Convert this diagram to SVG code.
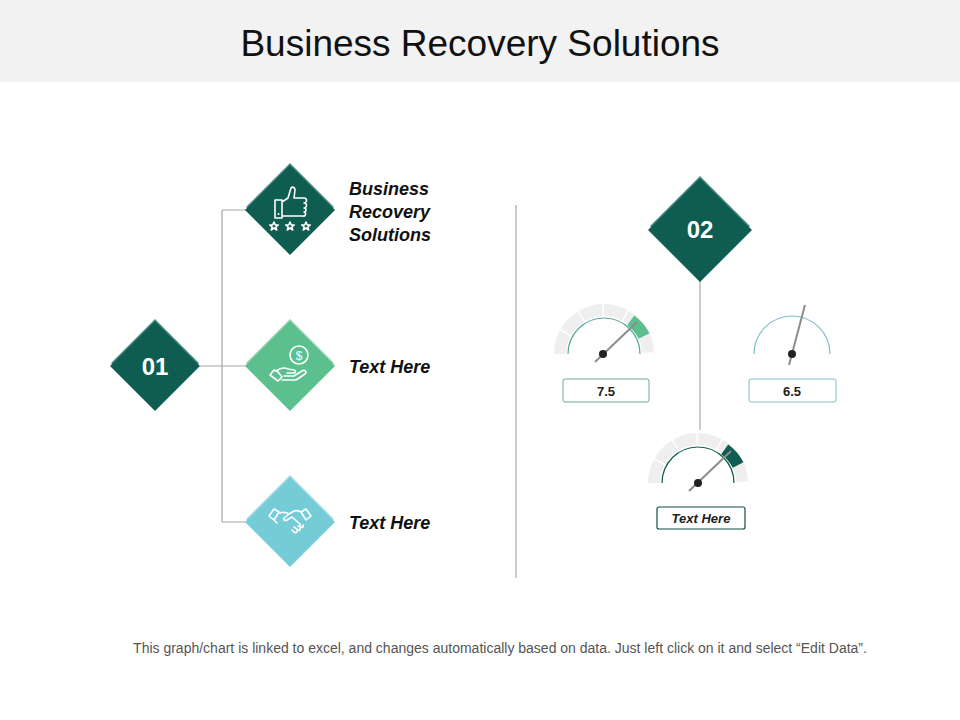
<svg xmlns="http://www.w3.org/2000/svg" width="960" height="720" viewBox="0 0 960 720">
<style>
.t{font-family:"Liberation Sans",Arial,sans-serif}
.lbl{font-family:"Liberation Sans",Arial,sans-serif;font-size:18px;font-weight:bold;font-style:italic;fill:#111}
.num{font-family:"Liberation Sans",Arial,sans-serif;font-size:24px;font-weight:bold;fill:#fff}
.ic{fill:none;stroke:#fff;stroke-width:1.6;stroke-linejoin:round;stroke-linecap:round}
.ln{stroke:#a6a6a6;stroke-width:1.2;fill:none}
.band{fill:none;stroke:#efefef;stroke-width:12;stroke-dasharray:21.5 1.5}
.needle{stroke:#8c8c8c;stroke-width:2}
</style>
<rect width="960" height="82" fill="#f2f2f2"/>
<text class="t" x="480" y="56" font-size="37" text-anchor="middle" fill="#111">Business Recovery Solutions</text>
<g id="connectors">
<path class="ln" d="M200 366H222M222 210V522M222 210H246M222 366H246M222 522H246"/>
<path class="ln" d="M516 205V578"/>
<path class="ln" d="M700 280V430"/>
</g>
<g id="n01">
<polygon points="155,319 199,363 155,407 111,363" fill="#4e8f86"/>
<polygon points="155,321 200,366 155,411 110,366" fill="#0f5c50"/>
<text class="num" x="155" y="375" text-anchor="middle">01</text>
</g>
<g id="n1">
<polygon points="290,163 334,207 290,251 246,207" fill="#4e8f86"/>
<polygon points="290,165 335,210 290,255 245,210" fill="#0f5c50"/>
<path class="ic" d="M275 200h7v18h-7zM282 202l6-4 3-10c2-2 4 0 4 2l-1 8h10a2 2 0 0 1 0 5a2 2 0 0 1 0 5a2 2 0 0 1 0 4a2 2 0 0 1-1 4h-21"/>
<circle cx="278.5" cy="214" r="1" fill="#fff"/>
<path class="ic" d="M274 222l1.3 3h3l-2.5 2 1 3-2.8-2-2.8 2 1-3-2.5-2h3zM290 222l1.3 3h3l-2.5 2 1 3-2.8-2-2.8 2 1-3-2.5-2h3zM306 222l1.3 3h3l-2.5 2 1 3-2.8-2-2.8 2 1-3-2.5-2h3z"/>
<text class="lbl" x="349" y="195">Business</text>
<text class="lbl" x="349" y="218">Recovery</text>
<text class="lbl" x="349" y="241">Solutions</text>
</g>
<g id="n2">
<polygon points="290,319 334,363 290,407 246,363" fill="#8fd3b0"/>
<polygon points="290,321 335,366 290,411 245,366" fill="#5bbf8e"/>
<circle class="ic" cx="299" cy="355" r="9"/>
<text class="t" x="299" y="360" font-size="12" text-anchor="middle" fill="#fff">$</text>
<path class="ic" d="M270 375l4-5 4 2 4 5-4 4zM276 371c4-3 8-4 12-2l6 1c2 0 2 3 0 3h-7M284 376h10l8-5c3-2 5 1 3 3l-9 6h-14"/>
<text class="lbl" x="349" y="373">Text Here</text>
</g>
<g id="n3">
<polygon points="290,475 334,519 290,563 246,519" fill="#a5dee5"/>
<polygon points="290,477 335,522 290,567 245,522" fill="#76ccd6"/>
<path class="ic" d="M269 516l5-7 5 3-5 8zM311 516l-5-7-5 3 5 8zM279 513c4-1 7-1 10 1l5-3c3-1 5 0 7 1M289 514l-5 4c-1 2 1 3 3 2l5-3 8 7c1 2-1 3-2 2M303 525c1 2-1 3-2 2M300 528c1 2-1 3-2 2l-4-3M297 531c0 2-2 2-3 1l-2-2M274 520l3 3"/>
<text class="lbl" x="349" y="529">Text Here</text>
</g>
<g id="n02">
<polygon points="700,176 750,226 700,276 650,226" fill="#4e8f86"/>
<polygon points="700,178 752,230 700,282 648,230" fill="#0f5c50"/>
<text class="num" x="700" y="238" text-anchor="middle">02</text>
</g>
<g id="g1">
<path class="band" d="M560 354A44 44 0 0 1 648 354"/>
<path d="M644.1 336A44 44 0 0 0 630.7 320.3" fill="none" stroke="#5bbf8e" stroke-width="12"/>
<path d="M568 354A36 36 0 0 1 640 354" fill="none" stroke="#5aa89c" stroke-width="1.2"/>
<line class="needle" x1="595" y1="362" x2="637" y2="322"/>
<circle cx="603" cy="354" r="4" fill="#222"/>
<rect x="563" y="379" width="86" height="23" rx="2" fill="#fff" stroke="#6aa89e"/>
<text class="t" x="606" y="396" font-size="13" font-weight="bold" text-anchor="middle" fill="#222">7.5</text>
</g>
<g id="g2">
<path d="M754 354A38 38 0 0 1 830 354" fill="none" stroke="#7cc0c6" stroke-width="1.2"/>
<line class="needle" x1="789" y1="365" x2="805" y2="305"/>
<circle cx="792" cy="354" r="4" fill="#222"/>
<rect x="749" y="379" width="87" height="23" rx="2" fill="#fff" stroke="#7cc0c6"/>
<text class="t" x="792" y="396" font-size="13" font-weight="bold" text-anchor="middle" fill="#222">6.5</text>
</g>
<g id="g3">
<path class="band" d="M654 483A44 44 0 0 1 742 483"/>
<path d="M738.1 465A44 44 0 0 0 724.7 449.3" fill="none" stroke="#0f5c50" stroke-width="12"/>
<path d="M662 483A36 36 0 0 1 734 483" fill="none" stroke="#0f5c50" stroke-width="1.2"/>
<line class="needle" x1="689" y1="491" x2="731" y2="451"/>
<circle cx="698" cy="483" r="4" fill="#222"/>
<rect x="657" y="507" width="88" height="22" rx="2" fill="#fff" stroke="#0f4f48" stroke-width="1.2"/>
<text class="t" x="701" y="523" font-size="13" font-weight="bold" font-style="italic" text-anchor="middle" fill="#222">Text Here</text>
</g>
<text class="t" x="500" y="653" font-size="14" text-anchor="middle" fill="#555">This graph/chart is linked to excel, and changes automatically based on data. Just left click on it and select “Edit Data”.</text>
</svg>
